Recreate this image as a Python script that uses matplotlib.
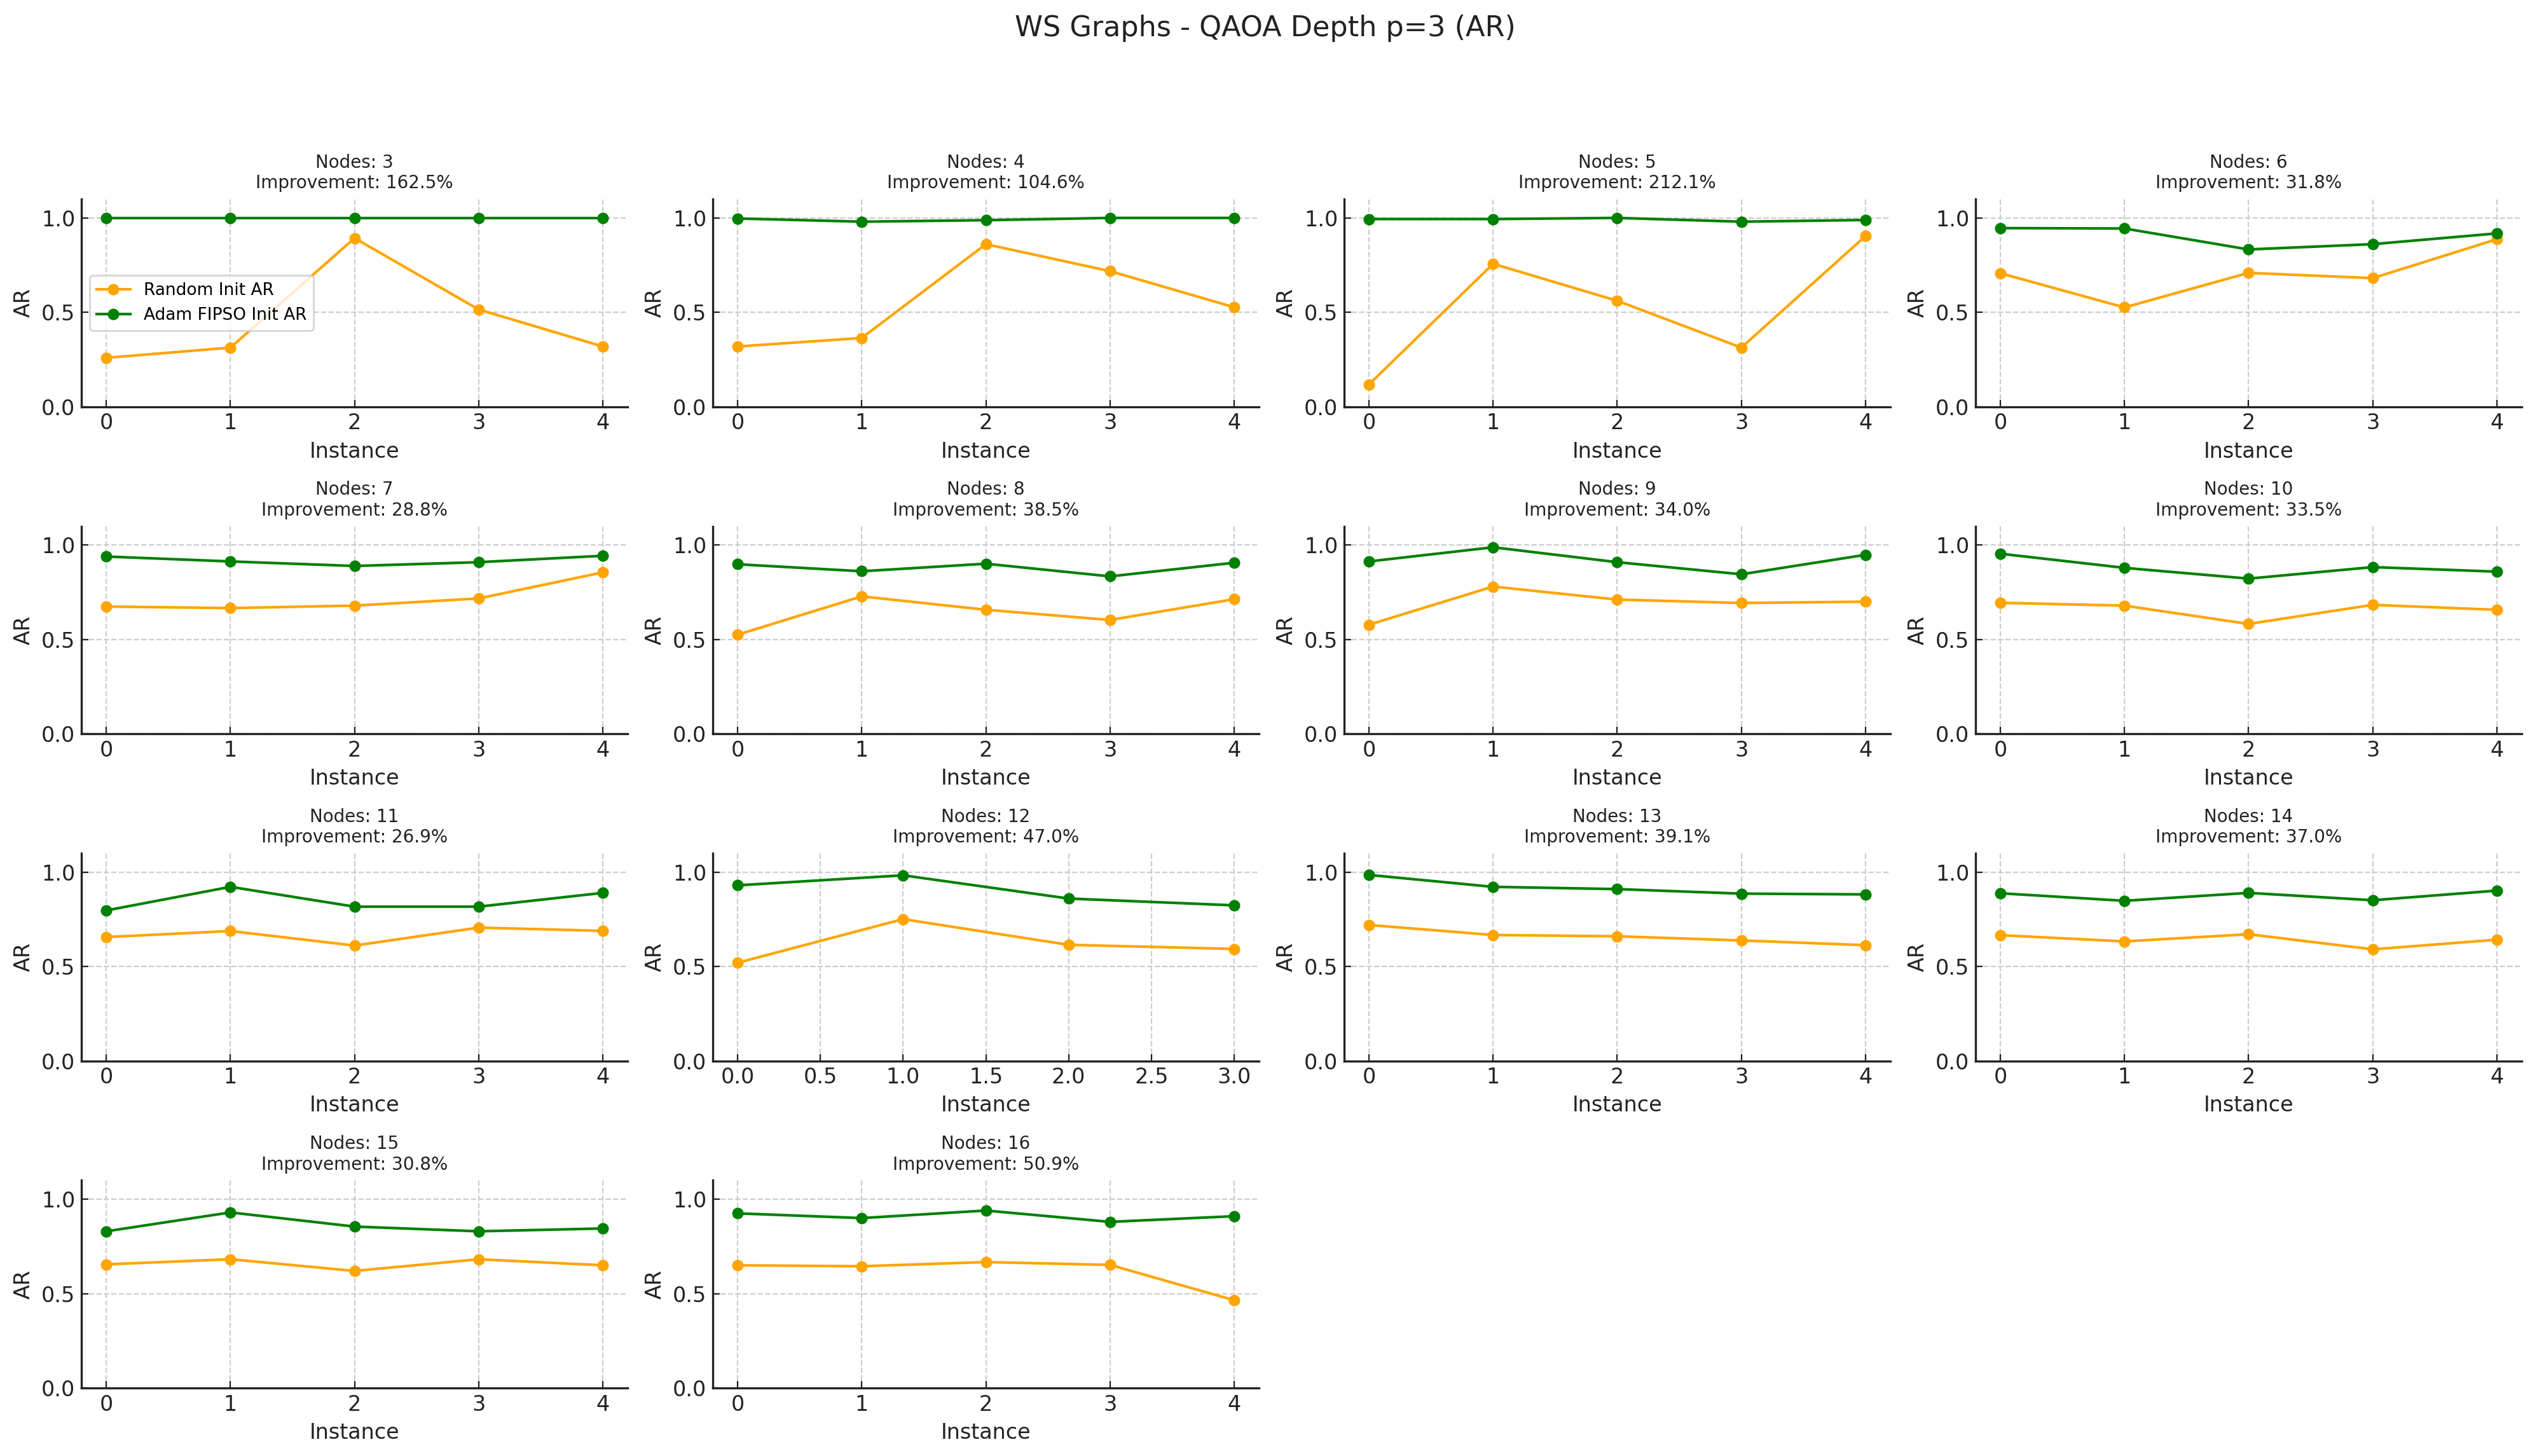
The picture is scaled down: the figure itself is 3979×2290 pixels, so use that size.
import matplotlib
matplotlib.use("Agg")
import matplotlib.pyplot as plt

# node counts and the improvement shown in each subplot title
nodes = [3, 4, 5, 6, 7, 8, 9, 10, 11, 12, 13, 14, 15, 16]
improvement = [162.5, 104.6, 212.1, 31.8, 28.8, 38.5, 34.0, 33.5,
               26.9, 47.0, 39.1, 37.0, 30.8, 50.9]

# AR per instance, one list per node count
random_ar = [
    [0.259, 0.313, 0.893, 0.515, 0.319],
    [0.319, 0.364, 0.861, 0.718, 0.527],
    [0.118, 0.757, 0.561, 0.313, 0.904],
    [0.707, 0.526, 0.709, 0.681, 0.887],
    [0.674, 0.666, 0.679, 0.717, 0.855],
    [0.525, 0.728, 0.657, 0.603, 0.713],
    [0.578, 0.780, 0.711, 0.693, 0.700],
    [0.694, 0.679, 0.582, 0.683, 0.657],
    [0.656, 0.688, 0.611, 0.706, 0.689],
    [0.520, 0.751, 0.615, 0.593],
    [0.720, 0.667, 0.660, 0.638, 0.613],
    [0.666, 0.633, 0.671, 0.591, 0.642],
    [0.655, 0.682, 0.620, 0.682, 0.650],
    [0.650, 0.645, 0.667, 0.652, 0.465],
]
fipso_ar = [
    [1.000, 1.000, 1.000, 1.000, 1.000],
    [0.997, 0.980, 0.988, 1.000, 1.000],
    [0.994, 0.994, 1.000, 0.980, 0.989],
    [0.946, 0.944, 0.833, 0.861, 0.918],
    [0.939, 0.913, 0.889, 0.909, 0.943],
    [0.898, 0.861, 0.901, 0.834, 0.906],
    [0.913, 0.988, 0.909, 0.845, 0.948],
    [0.954, 0.879, 0.822, 0.883, 0.859],
    [0.797, 0.922, 0.817, 0.817, 0.890],
    [0.930, 0.983, 0.860, 0.824],
    [0.985, 0.922, 0.910, 0.886, 0.882],
    [0.888, 0.848, 0.890, 0.851, 0.902],
    [0.830, 0.930, 0.855, 0.830, 0.845],
    [0.925, 0.900, 0.940, 0.880, 0.910],
]

txt = "#222222"
plt.rcParams["font.family"] = ["DejaVu Sans"]

fig, axes = plt.subplots(4, 4, figsize=(19.895, 11.45), dpi=200)
fig.subplots_adjust(left=0.0322, right=0.9967, top=0.8633, bottom=0.0467,
                    wspace=0.156, hspace=0.575)
axes = axes.flatten()

for i, n in enumerate(nodes):
    ax = axes[i]
    x = list(range(len(random_ar[i])))
    ax.plot(x, random_ar[i], marker="o", color="orange", linewidth=1.5,
            markersize=5.5, label="Random Init AR")
    ax.plot(x, fipso_ar[i], marker="o", color="green", linewidth=1.5,
            markersize=5.5, label="Adam FIPSO Init AR")
    ax.set_title("Nodes: " + str(n) + "\nImprovement: " + '{:.1f}'.format(improvement[i]) + "%",
                 fontsize=10, color=txt)
    ax.set_xlabel("Instance", fontsize=12, color=txt)
    ax.set_ylabel("AR", fontsize=12, color=txt)
    ax.set_ylim(0, 1.1)
    ax.set_yticks([0.0, 0.5, 1.0])
    ax.grid(True, linestyle="--", color="#cccccc", linewidth=0.8)
    ax.spines["top"].set_visible(False)
    ax.spines["right"].set_visible(False)
    for s in ["left", "bottom"]:
        ax.spines[s].set_color(txt)
        ax.spines[s].set_linewidth(1.2)
    ax.tick_params(direction="in", length=4, labelsize=12, colors=txt)
    if i == 0:
        ax.legend(loc="center left", fontsize=9.5)

for j in range(len(nodes), len(axes)):
    axes[j].remove()

fig.suptitle("WS Graphs - QAOA Depth p=3 (AR)", fontsize=16, color=txt, y=0.99)

fig.savefig("out.png", dpi=200)
